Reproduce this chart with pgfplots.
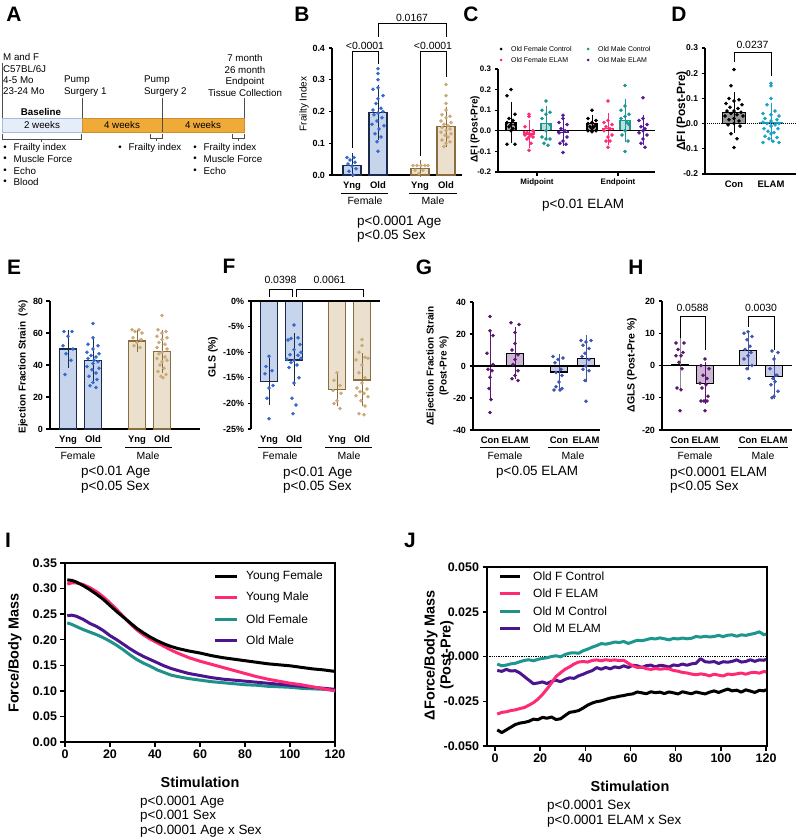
\documentclass[border=0pt]{standalone}
\usepackage{pgfplots}
\pgfplotsset{compat=1.18}
\usepackage{fontspec}
\setmainfont{Liberation Sans}

\definecolor{fdot}{HTML}{3469D1}
\definecolor{fbar}{HTML}{C7D5EC}
\definecolor{fedge}{HTML}{1B2A4C}
\definecolor{mdot}{HTML}{CBAA78}
\definecolor{mbar}{HTML}{EAE0CD}
\definecolor{medge}{HTML}{8B6C3E}
\definecolor{gfdot}{HTML}{5A176F}
\definecolor{gfbar}{HTML}{CDB5D5}
\definecolor{gmdot}{HTML}{3E56B0}
\definecolor{gmbar}{HTML}{C8CBE5}
\definecolor{cpink}{HTML}{FF2A75}
\definecolor{cteal}{HTML}{1C968F}
\definecolor{cpurple}{HTML}{55189A}
\definecolor{dcyan}{HTML}{19A1C4}
\definecolor{torange}{HTML}{F0AA38}
\definecolor{tblue}{HTML}{E4EDF8}
\definecolor{tbluedraw}{HTML}{A3BDE0}
\definecolor{ipurple}{HTML}{4B1590}
\definecolor{iteal}{HTML}{1F908A}

\newcommand{\fs}[1]{\fontsize{#1}{#1}\selectfont}
\newcommand{\pbar}[8]{%
  \addplot[ybar, bar shift=0pt, bar width=#7, fill=#4, draw=#5, line width=1.3bp,
    error bars/.cd, y dir=both, y explicit,
    error bar style={line width=0.9bp, draw=#6},
    error mark options={line width=0.9bp, draw=#6, mark size=#8}]
    coordinates {(#1,#2) +- (0,#3)};}

\pgfplotsset{
  prism/.style={scale only axis, anchor=south west, clip=false,
    axis x line*=bottom, axis y line*=left,
    axis line style={line width=1.1bp, black, -},
    tick style={line width=1.1bp, black},
    tick align=outside, major tick length=3.5bp,
    xtick style={draw=none},
    yticklabel style={font=\fs{9}\bfseries},
    xticklabel style={font=\fs{9.5}\bfseries},
  },
  pdots/.style={only marks, color=#1, mark=*, mark size=1.6bp, mark options={draw=none, fill=#1}},
  curve/.style={line width=3bp, #1, no marks, line join=round},
  linax/.style={scale only axis, anchor=south west, axis line style={line width=1.5bp, black},
    tick style={line width=1.5bp, black}, tick align=outside, major tick length=4.5bp,
    scaled ticks=false,
    xtick pos=left, ytick pos=left, ticklabel style={font=\fs{12.5}\bfseries}},
}
\tikzset{T/.style={inner sep=0pt, anchor=west}, C/.style={inner sep=0pt}}

\begin{document}
\begin{tikzpicture}
\useasboundingbox (0,0) rectangle (796bp,-839bp);

% ---------- panel letters
\foreach \l/\x/\y in {A/14/14, B/302/14, C/471/14, D/679/14, E/14/267, F/229/266, G/424/267, H/636/267, I/8/540, J/410/540}
  \node[C, font=\fs{21}\bfseries] at (\x*1bp,-\y*1bp) {\l};

% ---------- panel A (timeline)
\begin{scope}[font=\fs{9.8}]
\node[T] at (3bp,-57bp) {M and F};
\node[T] at (3bp,-69bp) {C57BL/6J};
\node[T] at (3bp,-80bp) {4-5 Mo};
\node[T] at (3bp,-91bp) {23-24 Mo};
\draw[line width=0.8bp, black!70] (2.5bp,-63bp) -- (2.5bp,-132bp);
\node[T] at (64bp,-80bp) {Pump};
\node[T] at (64bp,-92bp) {Surgery 1};
\node[T] at (144bp,-80bp) {Pump};
\node[T] at (144bp,-92bp) {Surgery 2};
\node[C] at (245bp,-58bp) {7 month};
\node[C] at (245bp,-70bp) {26 month};
\node[C] at (245bp,-82bp) {Endpoint};
\node[C] at (245bp,-93bp) {Tissue Collection};
\node[C, font=\fs{9.8}\bfseries] at (41bp,-112bp) {Baseline};
\filldraw[fill=tblue, draw=tbluedraw, line width=0.8bp] (2.5bp,-118bp) rectangle (82bp,-132bp);
\filldraw[fill=torange, draw=torange!85!black, line width=0.6bp] (82bp,-118bp) rectangle (244bp,-132bp);
\draw[line width=0.8bp, black!70] (82bp,-98bp) -- (82bp,-118bp);
\draw[line width=0.8bp, black!70] (162bp,-98bp) -- (162bp,-132bp);
\draw[line width=0.8bp, black!70] (244bp,-98bp) -- (244bp,-118bp);
\node[C] at (42bp,-125bp) {2 weeks};
\node[C] at (122bp,-125bp) {4 weeks};
\node[C] at (203bp,-125bp) {4 weeks};
\draw[line width=0.8bp, black!70] (2.5bp,-134bp) -- (2.5bp,-139bp) -- (81bp,-139bp) -- (81bp,-134bp);
\draw[line width=0.8bp, black!70] (41bp,-139bp) -- (41bp,-142bp);
\draw[line width=0.8bp, black!70] (150bp,-134bp) -- (150bp,-138bp) -- (162bp,-138bp) -- (162bp,-134bp);
\draw[line width=0.8bp, black!70] (156bp,-138bp) -- (156bp,-141bp);
\draw[line width=0.8bp, black!70] (232bp,-134bp) -- (232bp,-138bp) -- (244bp,-138bp) -- (244bp,-134bp);
\draw[line width=0.8bp, black!70] (238bp,-138bp) -- (238bp,-141bp);
\foreach \t/\y in {Frailty index/148, Muscle Force/159, Echo/171, Blood/182}{
  \node[C] at (5bp,-\y*1bp) {\textbullet};
  \node[T] at (13.5bp,-\y*1bp) {\t};}
\node[C] at (120bp,-148bp) {\textbullet};
\node[T] at (128.5bp,-148bp) {Frailty index};
\foreach \t/\y in {Frailty index/148, Muscle Force/159, Echo/171}{
  \node[C] at (195bp,-\y*1bp) {\textbullet};
  \node[T] at (203.5bp,-\y*1bp) {\t};}
\end{scope}

% ---------- panel B
\begin{axis}[prism, at={(332bp,-175bp)}, width=130bp, height=127bp,
  xmin=0, xmax=130, ymin=0, ymax=0.4,
  ytick={0,0.1,0.2,0.3,0.4}, yticklabels={0.0,0.1,0.2,0.3,0.4},
  xtick={20,46,88,114}, xticklabels={Yng,Old,Yng,Old}]
\pbar{20}{0.030}{0.022}{fbar}{fedge}{fedge}{18bp}{5bp}
\pbar{46}{0.197}{0.072}{fbar}{fedge}{fedge}{18bp}{5bp}
\pbar{88}{0.020}{0.010}{mbar}{medge}{medge}{18bp}{5bp}
\pbar{114}{0.152}{0.047}{mbar}{medge}{medge}{18bp}{5bp}
\addplot[pdots=fdot] coordinates {(15,0.055)(22,0.055)(18,0.047)(23,0.04)(16,0.035)(20,0.028)(24,0.02)(17,0.012)(21,0.0)};
\addplot[pdots=fdot] coordinates {(46,0.335)(46,0.32)(46,0.30)(46,0.275)(41,0.27)(51,0.25)(46,0.24)(44,0.225)(49,0.21)(41,0.205)(51,0.2)(46,0.195)(42,0.19)(50,0.18)(45,0.17)(40,0.16)(52,0.155)(47,0.145)(43,0.13)(49,0.12)(45,0.105)(46,0.075)};
\addplot[pdots=mdot] coordinates {(81,0.03)(85,0.03)(89,0.03)(93,0.03)(96,0.03)(83,0.015)(91,0.015)(87,0.005)};
\addplot[pdots=mdot] coordinates {(114,0.285)(114,0.25)(114,0.225)(114,0.205)(110,0.19)(118,0.185)(114,0.18)(109,0.17)(119,0.165)(112,0.16)(116,0.155)(110,0.15)(118,0.145)(114,0.14)(109,0.135)(119,0.13)(113,0.125)(116,0.12)(110,0.11)(118,0.105)(114,0.1)(112,0.09)};
\draw[line width=0.9bp] (axis cs:20,0.085) -- (axis cs:20,0.39) -- (axis cs:46,0.39) -- (axis cs:46,0.35);
\node[C, font=\fs{10.5}, anchor=south] at (axis cs:33,0.395) {<0.0001};
\draw[line width=0.9bp] (axis cs:88,0.06) -- (axis cs:88,0.39) -- (axis cs:114,0.39) -- (axis cs:114,0.31);
\node[C, font=\fs{10.5}, anchor=south] at (axis cs:101,0.395) {<0.0001};
\draw[line width=0.9bp] (axis cs:46,0.435) -- (axis cs:46,0.478) -- (axis cs:114,0.478) -- (axis cs:114,0.435);
\node[C, font=\fs{10.5}, anchor=south] at (axis cs:80,0.483) {0.0167};
\end{axis}
\node[C, rotate=90, font=\fs{10}] at (304bp,-104bp) {Frailty Index};
\draw[line width=1bp] (341bp,-193bp) -- (388bp,-193bp);
\draw[line width=1bp] (409bp,-193bp) -- (457bp,-193bp);
\node[C,font=\fs{10.5}] at (365bp,-201bp) {Female};
\node[C,font=\fs{10.5}] at (433bp,-201bp) {Male};
\node[T,font=\fs{13.5}] at (357bp,-222bp) {p<0.0001 Age};
\node[T,font=\fs{13.5}] at (357bp,-236bp) {p<0.05 Sex};

% ---------- panel C
\begin{axis}[prism, at={(498bp,-172bp)}, width=157bp, height=103bp,
  xmin=0, xmax=157, ymin=-0.2, ymax=0.3,
  ytick={-0.2,-0.1,0,0.1,0.2,0.3}, yticklabels={-0.2,-0.1,0.0,0.1,0.2,0.3},
  xtick={39,120}, xticklabels={Midpoint,Endpoint}, xtick style={draw=black},
  yticklabel style={font=\fs{8}\bfseries}, xticklabel style={font=\fs{8}\bfseries}]
\pbar{13}{0.040}{0.083}{black!35}{black}{black}{10bp}{3.5bp}
\pbar{31}{-0.015}{0.050}{cpink!25}{cpink}{cpink}{10bp}{3.5bp}
\pbar{48}{0.036}{0.065}{cteal!30}{cteal}{cteal}{10bp}{3.5bp}
\pbar{65}{-0.008}{0.050}{cpurple!25}{cpurple}{cpurple}{10bp}{3.5bp}
\pbar{94}{0.035}{0.025}{black!35}{black}{black}{10bp}{3.5bp}
\pbar{110}{0.010}{0.060}{cpink!25}{cpink}{cpink}{10bp}{3.5bp}
\pbar{127}{0.050}{0.085}{cteal!30}{cteal}{cteal}{10bp}{3.5bp}
\pbar{145}{0.003}{0.055}{cpurple!25}{cpurple}{cpurple}{10bp}{3.5bp}
\draw[line width=1bp] (axis cs:0,0) -- (axis cs:157,0);
\addplot[pdots=black] coordinates {(13,0.20)(9,0.17)(17,0.08)(11,0.06)(15,0.05)(9,0.04)(17,0.03)(13,0.03)(11,0.02)(15,0.01)(13,0.0)(9,-0.065)(17,-0.065)};
\addplot[pdots=cpink] coordinates {(31,0.08)(31,0.07)(27,0.02)(35,0.0)(29,-0.01)(33,-0.02)(27,-0.02)(35,-0.03)(31,-0.03)(29,-0.04)(33,-0.06)(31,-0.095)};
\addplot[pdots=cteal] coordinates {(48,0.145)(44,0.10)(52,0.09)(48,0.08)(44,0.06)(52,0.03)(48,0.0)(44,-0.03)(52,-0.04)(48,-0.04)(46,-0.06)(50,-0.07)};
\addplot[pdots=cpurple] coordinates {(65,0.075)(65,0.06)(61,0.04)(69,0.03)(63,0.01)(67,0.0)(61,-0.01)(69,-0.03)(65,-0.05)(62,-0.06)(68,-0.065)(65,-0.105)};
\addplot[pdots=black] coordinates {(94,0.10)(90,0.06)(98,0.05)(94,0.04)(90,0.035)(98,0.03)(92,0.02)(96,0.02)(94,0.01)(90,0.0)(98,0.0)(94,-0.005)};
\addplot[pdots=cpink] coordinates {(110,0.145)(110,0.05)(106,0.04)(114,0.03)(108,0.02)(112,0.01)(106,0.0)(114,-0.02)(110,-0.03)(108,-0.05)(112,-0.05)(110,-0.08)};
\addplot[pdots=cteal] coordinates {(127,0.22)(127,0.12)(123,0.10)(131,0.08)(127,0.07)(123,0.06)(131,0.03)(127,0.0)(124,-0.02)(130,-0.05)(127,-0.10)(129,0.04)};
\addplot[pdots=cpurple] coordinates {(145,0.16)(145,0.06)(141,0.05)(149,0.03)(143,0.02)(147,0.01)(141,-0.01)(149,-0.02)(145,-0.04)(143,-0.06)(147,-0.08)(145,0.0)};
\end{axis}
\node[C, rotate=90, font=\fs{10}\bfseries] at (475bp,-129bp) {ΔFI (Post-Pre)};
\fill (501bp,-49bp) circle (1.5bp); \node[T,font=\fs{7}] at (511bp,-49bp) {Old Female Control};
\fill[cpink] (501bp,-60bp) circle (1.5bp); \node[T,font=\fs{7}] at (511bp,-60bp) {Old Female ELAM};
\fill[cteal] (588bp,-49bp) circle (1.5bp); \node[T,font=\fs{7}] at (598bp,-49bp) {Old Male Control};
\fill[cpurple] (588bp,-60bp) circle (1.5bp); \node[T,font=\fs{7}] at (598bp,-60bp) {Old Male ELAM};
\node[T,font=\fs{13.5}] at (542bp,-205bp) {p<0.01 ELAM};

% ---------- panel D
\begin{axis}[prism, at={(705bp,-174bp)}, width=91bp, height=126bp,
  xmin=0, xmax=91, ymin=-0.2, ymax=0.3,
  ytick={-0.2,-0.1,0,0.1,0.2,0.3}, yticklabels={-0.2,-0.1,0.0,0.1,0.2,0.3},
  xtick={29,66}, xticklabels={Con,ELAM},
  yticklabel style={font=\fs{8.5}\bfseries}]
\pbar{29}{0.045}{0.062}{black!40}{black}{black}{23bp}{5bp}
\pbar{66}{0.005}{0.058}{dcyan!20}{dcyan}{dcyan}{23bp}{5bp}
\draw[densely dotted, line width=1bp] (axis cs:0,0) -- (axis cs:91,0);
\addplot[pdots=black] coordinates {(29,0.215)(26,0.15)(24,0.10)(34,0.095)(29,0.09)(21,0.08)(37,0.075)(25,0.065)(33,0.06)(29,0.05)(22,0.05)(36,0.045)(26,0.04)(32,0.035)(20,0.03)(38,0.03)(29,0.02)(24,0.015)(34,0.01)(29,0.0)(23,-0.005)(35,-0.01)(26,-0.04)(32,-0.06)(29,-0.095)};
\addplot[pdots=dcyan] coordinates {(66,0.16)(66,0.15)(66,0.10)(62,0.075)(70,0.05)(58,0.04)(66,0.035)(74,0.03)(60,0.02)(72,0.015)(66,0.01)(58,0.005)(74,0.0)(62,0.0)(70,-0.005)(66,-0.01)(59,-0.02)(73,-0.02)(63,-0.03)(69,-0.035)(66,-0.04)(60,-0.05)(72,-0.055)(64,-0.06)(58,-0.075)(74,-0.075)(68,-0.07)};
\draw[line width=0.9bp] (axis cs:29,0.245) -- (axis cs:29,0.284) -- (axis cs:66,0.284) -- (axis cs:66,0.19);
\node[C, font=\fs{10.5}, anchor=south] at (axis cs:47.5,0.295) {0.0237};
\end{axis}
\node[C, rotate=90, font=\fs{12}\bfseries] at (682bp,-111bp) {ΔFI (Post-Pre)};

% ---------- panel E
\begin{axis}[prism, at={(50bp,-429bp)}, width=150bp, height=128bp,
  xmin=0, xmax=150, ymin=0, ymax=80,
  ytick={0,20,40,60,80}, yticklabels={0,20,40,60,80},
  xtick={18,43,87,112}, xticklabels={Yng,Old,Yng,Old}]
\pbar{18}{50}{8.5}{fbar}{fedge}{fedge}{17bp}{5bp}
\pbar{43}{43}{10}{fbar}{fedge}{fedge}{17bp}{5bp}
\pbar{87}{55}{4}{mbar}{medge}{medge}{17bp}{5bp}
\pbar{112}{48.5}{10.5}{mbar}{medge}{medge}{17bp}{5bp}
\addplot[pdots=fdot] coordinates {(14,61)(22,61)(18,58)(13,52)(23,50)(16,47)(21,43)(15,34)};
\addplot[pdots=fdot] coordinates {(43,66)(43,57)(38,53)(48,52)(43,50)(37,48)(49,47)(41,46)(46,45)(38,44)(48,42)(43,41)(37,39)(49,38)(42,37)(46,35)(39,33)(47,31)(43,29)(40,27)(46,26)(44,43)};
\addplot[pdots=mdot] coordinates {(82,62)(89,62)(85,61)(92,60)(83,57)(91,56)(87,54)(84,52)(90,51)};
\addplot[pdots=mdot] coordinates {(112,71)(108,62)(116,61)(112,60)(107,58)(117,57)(112,56)(109,54)(115,53)(107,51)(117,50)(112,48)(109,47)(115,45)(107,44)(117,43)(112,42)(110,40)(114,38)(108,36)(116,34)(111,33)(113,32)};
\end{axis}
\node[C, rotate=90, font=\fs{10}\bfseries] at (23bp,-367bp) {Ejection Fraction Strain\ \ (\%)};
\draw[line width=1bp] (55bp,-447bp) -- (102bp,-447bp);
\draw[line width=1bp] (125bp,-447bp) -- (172bp,-447bp);
\node[C,font=\fs{10.5}] at (78bp,-456bp) {Female};
\node[C,font=\fs{10.5}] at (148bp,-456bp) {Male};
\node[T,font=\fs{13.5}] at (81bp,-472bp) {p<0.01 Age};
\node[T,font=\fs{13.5}] at (81bp,-487bp) {p<0.05 Sex};

% ---------- panel F
\begin{axis}[prism, at={(251bp,-429bp)}, width=129bp, height=128bp,
  xmin=0, xmax=129, ymin=-25, ymax=0,
  x axis line style={draw=none},
  ytick={-25,-20,-15,-10,-5,0}, yticklabels={-25\%,-20\%,-15\%,-10\%,-5\%,0\%},
  xtick={18,43,86,111}, xticklabels={Yng,Old,Yng,Old}]
\pbar{18}{-15.7}{3.6}{fbar}{fedge}{fedge}{17bp}{5bp}
\pbar{43}{-11.5}{4.2}{fbar}{fedge}{fedge}{17bp}{5bp}
\pbar{86}{-17.3}{2.2}{mbar}{medge}{medge}{17bp}{5bp}
\pbar{111}{-15.4}{4.2}{mbar}{medge}{medge}{17bp}{5bp}
\draw[line width=1.1bp] (axis cs:0,0) -- (axis cs:129,0);
\addplot[pdots=fdot] coordinates {(18,-10.8)(15,-12.8)(21,-13.6)(14,-14.2)(22,-16.5)(18,-17)(16,-19)(18,-23)};
\addplot[pdots=fdot] coordinates {(43,-4.7)(40,-7.3)(47,-7.2)(37,-7.6)(49,-8.5)(43,-9.5)(39,-10.5)(47,-10.6)(36,-11.4)(50,-11.2)(43,-11.6)(40,-12)(46,-12.5)(38,-13)(48,-15)(43,-16)(41,-19)(45,-20.3)(42,-22)(50,-10)};
\addplot[pdots=mdot] coordinates {(86,-14)(83,-15.5)(89,-16.5)(82,-17.5)(90,-18)(86,-19.5)(83,-20)(89,-21)};
\addplot[pdots=mdot] coordinates {(111,-7.5)(111,-8.7)(108,-10)(114,-11)(117,-11.2)(105,-11.5)(111,-12.5)(108,-14)(114,-15)(111,-16)(106,-17)(116,-17.2)(109,-17.7)(113,-18)(105,-18.5)(117,-18.7)(110,-19.5)(114,-20.5)(108,-22)(113,-22.2)};
\draw[line width=0.9bp] (axis cs:18,0.8) -- (axis cs:18,2.3) -- (axis cs:41,2.3) -- (axis cs:41,0.8);
\node[C, font=\fs{10.5}, anchor=south] at (axis cs:29.5,3.3) {0.0398};
\draw[line width=0.9bp] (axis cs:45,0.8) -- (axis cs:45,2.3) -- (axis cs:112,2.3) -- (axis cs:112,0.8);
\node[C, font=\fs{10.5}, anchor=south] at (axis cs:78.5,3.3) {0.0061};
\end{axis}
\node[C, rotate=90, font=\fs{10.5}\bfseries] at (213bp,-357bp) {GLS (\%)};
\draw[line width=1bp] (258bp,-447bp) -- (302bp,-447bp);
\draw[line width=1bp] (325bp,-447bp) -- (372bp,-447bp);
\node[C,font=\fs{10.5}] at (280bp,-456bp) {Female};
\node[C,font=\fs{10.5}] at (349bp,-456bp) {Male};
\node[T,font=\fs{13.5}] at (283bp,-473bp) {p<0.01 Age};
\node[T,font=\fs{13.5}] at (283bp,-487bp) {p<0.05 Sex};

% ---------- panel G
\begin{axis}[prism, at={(473bp,-430bp)}, width=127bp, height=128bp,
  xmin=0, xmax=127, ymin=-40, ymax=40,
  ytick={-40,-20,0,20,40}, yticklabels={-40,-20,0,20,40},
  xtick={17,42,86,113}, xticklabels={Con,ELAM,Con,ELAM}]
\pbar{17}{0.3}{18}{gfbar}{black}{gfdot}{17bp}{5bp}
\pbar{42}{8}{13}{gfbar}{black}{gfdot}{17bp}{5bp}
\pbar{86}{-3.8}{8}{gmbar}{black}{gmdot}{17bp}{5bp}
\pbar{113}{4.5}{11.5}{gmbar}{black}{gmdot}{17bp}{5bp}
\draw[line width=1.1bp] (axis cs:0,0) -- (axis cs:127,0);
\addplot[pdots=gfdot] coordinates {(17,31)(17,22)(20,19)(14,8)(20,1)(15,-2)(19,-3)(17,-7)(16,-14)(18,-21)(17,-29)};
\addplot[pdots=gfdot] coordinates {(38,27)(46,26)(42,21)(42,14)(39,10)(45,7)(42,4)(40,1)(45,-3)(42,-6)(39,-8)(45,-9)};
\addplot[pdots=gmdot] coordinates {(80,6)(90,5)(85,4)(82,2)(88,-2)(83,-4)(89,-6)(86,-10)(83,-13)(89,-14)(81,-15)(87,-15)};
\addplot[pdots=gmdot] coordinates {(108,16)(118,16)(113,15)(110,13)(116,11)(112,8)(109,6)(116,4)(113,0)(110,-2)(116,-3)(112,-9)(113,-22)};
\end{axis}
\node[C, rotate=90, font=\fs{10}\bfseries] at (431bp,-366bp) {ΔEjection Fraction Strain};
\node[C, rotate=90, font=\fs{10}\bfseries] at (444bp,-366bp) {(Post-Pre \%)};
\draw[line width=1bp] (480bp,-447bp) -- (530bp,-447bp);
\draw[line width=1bp] (548bp,-447bp) -- (598bp,-447bp);
\node[C,font=\fs{10.5}] at (505bp,-456bp) {Female};
\node[C,font=\fs{10.5}] at (573bp,-456bp) {Male};
\node[T,font=\fs{13.5}] at (496bp,-472bp) {p<0.05 ELAM};

% ---------- panel H
\begin{axis}[prism, at={(662bp,-430bp)}, width=130bp, height=129bp,
  xmin=0, xmax=130, ymin=-20, ymax=20,
  ytick={-20,-10,0,10,20}, yticklabels={-20,-10,0,10,20},
  xtick={18,43,86,112}, xticklabels={Con,ELAM,Con,ELAM}]
\pbar{18}{0.2}{6.7}{gfbar}{black}{black!45}{17bp}{5bp}
\pbar{43}{-5.5}{5}{gfbar}{black}{gfdot}{17bp}{5bp}
\pbar{86}{4.7}{4.6}{gmbar}{black}{gmdot}{17bp}{5bp}
\pbar{112}{-3.5}{5.2}{gmbar}{black}{gmdot}{17bp}{5bp}
\draw[line width=1.1bp] (axis cs:0,0) -- (axis cs:130,0);
\addplot[pdots=gfdot] coordinates {(14,7)(22,7)(16,5)(21,4)(14,3)(19,3)(17,1)(20,-1)(15,-7)(19,-7.5)(18,-14)};
\addplot[pdots=gfdot] coordinates {(43,2)(39,0)(47,-1)(41,-3)(45,-4)(38,-5.5)(44,-6)(40,-7)(46,-9.5)(42,-11)(39,-11)(45,-11)(43,-14)};
\addplot[pdots=gmdot] coordinates {(86,10.5)(82,10)(90,9)(85,8)(88,6)(83,5)(89,4)(86,3)(82,2)(90,0)(85,-1)(87,-4)};
\addplot[pdots=gmdot] coordinates {(110,4.5)(116,4)(112,2)(108,-1)(115,-3)(111,-4)(113,-5)(109,-6)(116,-8)(112,-9.5)(110,-10)(114,-3)};
\draw[line width=0.9bp] (axis cs:18,8.4) -- (axis cs:18,15.3) -- (axis cs:43,15.3) -- (axis cs:43,4.7);
\node[C, font=\fs{10.5}, anchor=south] at (axis cs:30.5,16.8) {0.0588};
\draw[line width=0.9bp] (axis cs:86,11.9) -- (axis cs:86,15.3) -- (axis cs:112,15.3) -- (axis cs:112,4.7);
\node[C, font=\fs{10.5}, anchor=south] at (axis cs:99,16.8) {0.0030};
\end{axis}
\node[C, rotate=90, font=\fs{10.5}\bfseries] at (632bp,-365bp) {ΔGLS (Post-Pre \%)};
\draw[line width=1bp] (670bp,-447bp) -- (720bp,-447bp);
\draw[line width=1bp] (738bp,-447bp) -- (788bp,-447bp);
\node[C,font=\fs{10.5}] at (695bp,-456bp) {Female};
\node[C,font=\fs{10.5}] at (763bp,-456bp) {Male};
\node[T,font=\fs{13.5}] at (670bp,-473bp) {p<0.0001 ELAM};
\node[T,font=\fs{13.5}] at (670bp,-487bp) {p<0.05 Sex};

% ---------- panel I
\begin{axis}[linax, at={(65bp,-742bp)}, width=270bp, height=179bp,
  xmin=0, xmax=120, ymin=0, ymax=0.35,
  xtick={0,20,40,60,80,100,120}, xticklabels={0,20,40,60,80,100,120},
  ytick={0,0.05,0.1,0.15,0.2,0.25,0.3,0.35}, yticklabels={0.00,0.05,0.10,0.15,0.20,0.25,0.30,0.35}]
\addplot[curve=iteal] coordinates {(1,.233)(3,.230)(5,.226)(8,.220)(11,.215)(14,.210)(17,.204)(20,.197)(23,.189)(26,.180)(29,.170)(32,.161)(35,.154)(38,.148)(41,.141)(44,.136)(47,.131)(50,.128)(55,.124)(60,.121)(65,.118)(70,.116)(75,.114)(80,.112)(85,.111)(90,.109)(95,.108)(100,.107)(105,.105)(110,.104)(115,.103)(120,.102)};
\addplot[curve=ipurple] coordinates {(1,.247)(3,.248)(5,.246)(8,.240)(11,.232)(14,.226)(17,.218)(20,.208)(23,.200)(26,.191)(29,.182)(32,.174)(35,.167)(38,.161)(41,.155)(44,.149)(47,.144)(50,.140)(55,.134)(60,.130)(65,.126)(70,.123)(75,.121)(80,.119)(85,.117)(90,.115)(95,.113)(100,.111)(105,.109)(110,.107)(115,.105)(120,.103)};
\addplot[curve=cpink] coordinates {(1,.309)(3,.311)(5,.311)(8,.308)(11,.302)(14,.294)(17,.284)(20,.272)(23,.259)(26,.245)(29,.231)(32,.219)(35,.209)(38,.201)(41,.194)(44,.187)(47,.180)(50,.174)(55,.165)(60,.158)(65,.152)(70,.146)(75,.140)(80,.134)(85,.128)(90,.123)(95,.119)(100,.115)(105,.112)(110,.108)(115,.104)(120,.100)};
\addplot[curve=black] coordinates {(1,.317)(3,.316)(5,.313)(8,.306)(11,.298)(14,.289)(17,.279)(20,.267)(23,.255)(26,.244)(29,.233)(32,.222)(35,.213)(38,.205)(41,.198)(44,.192)(47,.187)(50,.183)(55,.178)(60,.174)(65,.169)(70,.165)(75,.162)(80,.159)(85,.156)(90,.153)(95,.151)(100,.149)(105,.146)(110,.143)(115,.141)(120,.138)};
\end{axis}
\node[C, rotate=90, font=\fs{14.5}\bfseries] at (15bp,-653bp) {Force/Body Mass};
\node[C, font=\fs{14.5}\bfseries] at (200bp,-782bp) {Stimulation};
\foreach \t/\c/\y in {Young Female/black/576, Young Male/cpink/597, Old Female/iteal/619, Old Male/ipurple/640}{
  \draw[line width=3bp, \c] (215bp,-\y*1bp) -- (237bp,-\y*1bp);
  \node[T, font=\fs{12}] at (246bp,-\y*1bp) {\t};}
\node[T,font=\fs{13.5}] at (140bp,-802bp) {p<0.0001 Age};
\node[T,font=\fs{13.5}] at (140bp,-816bp) {p<0.001 Sex};
\node[T,font=\fs{13.5}] at (140bp,-831bp) {p<0.0001 Age x Sex};

% ---------- panel J
\begin{axis}[linax, at={(487bp,-746bp)}, width=280bp, height=179bp,
  xmin=-3.54, xmax=120.4, ymin=-0.05, ymax=0.05,
  xtick={0,20,40,60,80,100,120}, xticklabels={0,20,40,60,80,100,120},
  ytick={-0.05,-0.025,0,0.025,0.05}, yticklabels={-0.050,-0.025,0.000,0.025,0.050}]
\draw[densely dotted, line width=1.3bp] (axis cs:-3.54,0) -- (axis cs:120.4,0);
\addplot[curve=black] coordinates {(1,-0.041)(3,-0.0425)(5,-0.041)(7,-0.0395)(9,-0.038)(11,-0.0372)(13,-0.0368)(15,-0.0362)(17,-0.035)(19,-0.0353)(21,-0.034)(23,-0.0345)(25,-0.0338)(27,-0.0352)(29,-0.0348)(31,-0.033)(33,-0.0312)(35,-0.0308)(37,-0.0302)(39,-0.0288)(41,-0.0272)(43,-0.026)(45,-0.0252)(47,-0.0248)(49,-0.024)(51,-0.0232)(53,-0.0228)(55,-0.0222)(57,-0.0218)(59,-0.0212)(61,-0.0209)(63,-0.0198)(65,-0.0203)(67,-0.0208)(69,-0.0197)(71,-0.0202)(73,-0.0199)(75,-0.0207)(77,-0.0198)(79,-0.0203)(81,-0.0209)(83,-0.0197)(85,-0.0203)(87,-0.0208)(89,-0.0198)(91,-0.0204)(93,-0.0209)(95,-0.0199)(97,-0.0192)(99,-0.0201)(101,-0.0191)(103,-0.0182)(105,-0.0192)(107,-0.0188)(109,-0.0199)(111,-0.0186)(113,-0.0193)(115,-0.0201)(117,-0.0189)(119,-0.0192)(120,-0.0185)};
\addplot[curve=cteal] coordinates {(1,-0.0042)(3,-0.0052)(5,-0.0048)(7,-0.0041)(9,-0.0038)(11,-0.0029)(13,-0.0022)(15,-0.0018)(17,-0.0024)(19,-0.0016)(21,-0.0011)(23,-0.0007)(25,0.0)(27,0.0004)(29,-0.0002)(31,0.0011)(33,0.0019)(35,0.0021)(37,0.0018)(39,0.0032)(41,0.0041)(43,0.0052)(45,0.0061)(47,0.0072)(49,0.0069)(51,0.0074)(53,0.0081)(55,0.0078)(57,0.0084)(59,0.0073)(61,0.0082)(63,0.0091)(65,0.0088)(67,0.0094)(69,0.0101)(71,0.0098)(73,0.0104)(75,0.0099)(77,0.0093)(79,0.0101)(81,0.0098)(83,0.0103)(85,0.0099)(87,0.0102)(89,0.0112)(91,0.0108)(93,0.0113)(95,0.0109)(97,0.0112)(99,0.0118)(101,0.0111)(103,0.0119)(105,0.0121)(107,0.0113)(109,0.0121)(111,0.0118)(113,0.0124)(115,0.0129)(117,0.0138)(119,0.0122)(120,0.0125)};
\addplot[curve=ipurple] coordinates {(1,-0.0078)(3,-0.0083)(5,-0.0072)(7,-0.0081)(9,-0.0079)(11,-0.0092)(13,-0.0112)(15,-0.0132)(17,-0.0152)(19,-0.0148)(21,-0.0142)(23,-0.0151)(25,-0.0139)(27,-0.0132)(29,-0.0141)(31,-0.0128)(33,-0.0119)(35,-0.0122)(37,-0.0108)(39,-0.0099)(41,-0.0088)(43,-0.0079)(45,-0.0062)(47,-0.0071)(49,-0.0061)(51,-0.0069)(53,-0.0058)(55,-0.0063)(57,-0.0052)(59,-0.0061)(61,-0.0049)(63,-0.0052)(65,-0.0061)(67,-0.0051)(69,-0.0048)(71,-0.0058)(73,-0.0049)(75,-0.0052)(77,-0.0059)(79,-0.0047)(81,-0.0051)(83,-0.0042)(85,-0.0049)(87,-0.0041)(89,-0.0038)(91,-0.0012)(93,-0.0029)(95,-0.0032)(97,-0.0028)(99,-0.0039)(101,-0.0029)(103,-0.0032)(105,-0.0027)(107,-0.0019)(109,-0.0031)(111,-0.0028)(113,-0.0018)(115,-0.0027)(117,-0.0019)(119,-0.0021)(120,-0.0016)};
\addplot[curve=cpink] coordinates {(1,-0.0322)(3,-0.0312)(5,-0.0309)(7,-0.0302)(9,-0.0298)(11,-0.0291)(13,-0.0285)(15,-0.0272)(17,-0.0258)(19,-0.0238)(21,-0.0212)(23,-0.0182)(25,-0.0148)(27,-0.0112)(29,-0.0091)(31,-0.0071)(33,-0.0058)(35,-0.0042)(37,-0.0031)(39,-0.0028)(41,-0.0031)(43,-0.0022)(45,-0.0019)(47,-0.0024)(49,-0.0018)(51,-0.0022)(53,-0.0019)(55,-0.0023)(57,-0.0021)(59,-0.0038)(61,-0.0052)(63,-0.0061)(65,-0.0059)(67,-0.0068)(69,-0.0072)(71,-0.0067)(73,-0.0071)(75,-0.0068)(77,-0.0069)(79,-0.0078)(81,-0.0082)(83,-0.0089)(85,-0.0092)(87,-0.0098)(89,-0.0102)(91,-0.0097)(93,-0.0101)(95,-0.0108)(97,-0.0099)(99,-0.0104)(101,-0.0109)(103,-0.0098)(105,-0.0101)(107,-0.0097)(109,-0.0092)(111,-0.0099)(113,-0.0091)(115,-0.0088)(117,-0.0093)(119,-0.0084)(120,-0.0086)};
\end{axis}
\node[C, rotate=90, font=\fs{14.5}\bfseries] at (431bp,-655bp) {ΔForce/Body Mass};
\node[C, rotate=90, font=\fs{14.5}\bfseries] at (447bp,-655bp) {(Post-Pre)};
\node[C, font=\fs{14.5}\bfseries] at (630bp,-786bp) {Stimulation};
\foreach \t/\c/\y in {Old F Control/black/576, Old F ELAM/cpink/593, Old M Control/iteal/611, Old M ELAM/ipurple/628}{
  \draw[line width=3bp, \c] (500bp,-\y*1bp) -- (520bp,-\y*1bp);
  \node[T, font=\fs{12}] at (533bp,-\y*1bp) {\t};}
\node[T,font=\fs{13.5}] at (547bp,-806bp) {p<0.0001 Sex};
\node[T,font=\fs{13.5}] at (547bp,-821bp) {p<0.0001 ELAM x Sex};
\end{tikzpicture}
\end{document}
